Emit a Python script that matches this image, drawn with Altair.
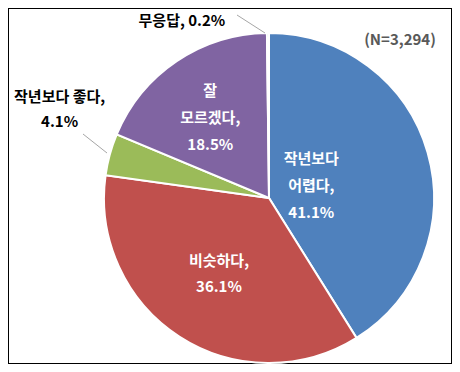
import altair as alt
import pandas as pd

categories = ["작년보다 어렵다", "비슷하다", "작년보다 좋다", "잘 모르겠다", "무응답"]
values = [41.1, 36.1, 4.1, 18.5, 0.2]
colors = ["#4F81BD", "#C0504D", "#9BBB59", "#8064A2", "#4BACC6"]
labels = [
    "작년보다\n어렵다,\n41.1%",
    "비슷하다,\n36.1%",
    "작년보다 좋다,\n4.1%",
    "잘\n모르겠다,\n18.5%",
    "무응답, 0.2%",
]
sample_note = "(N=3,294)"

df = pd.DataFrame({
    "cat": categories,
    "value": values,
    "label": labels,
    "order": list(range(len(categories))),
})

FONT = "Noto Sans CJK KR"
CX, CY = 261, 190
TAU = 6.283185307179586

base = alt.Chart(df)

arcs = base.mark_arc(outerRadius=165, stroke="white", strokeWidth=2).encode(
    theta=alt.Theta("value:Q", stack=True, scale=alt.Scale(domain=[0, 100], range=[0, TAU])),
    color=alt.Color("cat:N", scale=alt.Scale(domain=categories, range=colors), legend=None),
    order=alt.Order("order:Q"),
    x=alt.value(CX),
    y=alt.value(CY),
)

mid = base.transform_window(
    cum="sum(value)", sort=[alt.SortField("order")], frame=[None, 0]
).transform_calculate(mid="datum.cum - datum.value / 2")


def label_layer(cat, radius, color, dx=0, dy=0, line_height=27):
    return mid.transform_filter(alt.datum.cat == cat).mark_text(
        radius=radius, dx=dx, dy=dy, font=FONT, fontWeight="bold", fontSize=15,
        lineBreak="\n", lineHeight=line_height, align="center", baseline="middle", color=color,
    ).encode(
        theta=alt.Theta("mid:Q", stack=False, scale=alt.Scale(domain=[0, 100], range=[0, TAU])),
        text="label:N",
        x=alt.value(CX),
        y=alt.value(CY),
    )


texts = [
    label_layer(categories[0], 44, "white", dy=-27),
    label_layer(categories[1], 92, "white", dy=-14, line_height=26),
    label_layer(categories[2], 215, "black", dx=-2, dy=-44, line_height=25),
    label_layer(categories[3], 105, "white", dy=-20, line_height=27),
    label_layer(categories[4], 180, "black", dx=-86, dy=3),
]

one = alt.Chart(pd.DataFrame({"k": [0]}))
leader1 = one.mark_rule(color="#A6A6A6", strokeWidth=1).encode(
    x=alt.value(75), y=alt.value(126), x2=alt.value(99), y2=alt.value(145)
)
leader2 = one.mark_rule(color="#A6A6A6", strokeWidth=1).encode(
    x=alt.value(229), y=alt.value(7), x2=alt.value(257), y2=alt.value(25)
)
note = one.mark_text(font=FONT, fontWeight="bold", fontSize=15, color="#595959",
                     align="center", baseline="middle").encode(
    x=alt.value(392), y=alt.value(32), text=alt.value(sample_note)
)

chart = alt.layer(arcs, *texts, leader1, leader2, note).properties(
    width=444, height=356, padding=0,
    autosize=alt.AutoSizeParams(type="none"),
).configure_view(stroke="black", strokeWidth=2)

chart.save("out.html", embed_options={"renderer": "svg", "actions": False})
